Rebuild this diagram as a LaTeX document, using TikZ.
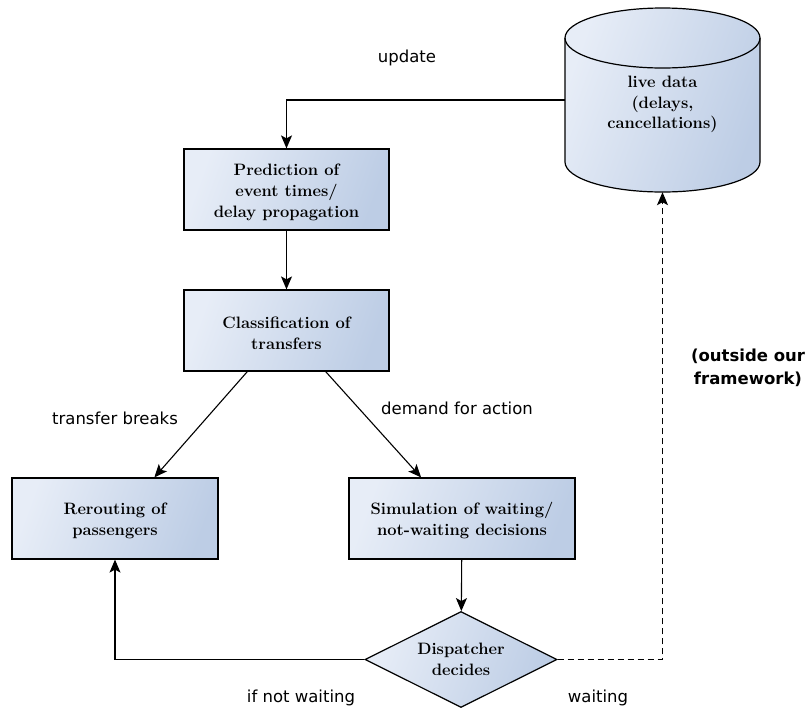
\documentclass[tikz,border=0pt]{standalone}
\usepackage{fontspec}
\newfontfamily\labelfont{DejaVu Sans}
\usetikzlibrary{shapes.geometric, arrows.meta, calc}
\definecolor{shadeL}{RGB}{231,237,247}
\definecolor{shadeR}{RGB}{189,205,229}
% extra head room on the first line pushes the text block slightly down
\newcommand{\toppad}{\rule{0pt}{17pt}}
\newcommand{\toppadcyl}{\rule{0pt}{21pt}}

\begin{document}
\begin{tikzpicture}[x=1pt,y=1pt,
  boxfill/.style={left color=shadeL, right color=shadeR, shading angle=70},
  boxfont/.style={font=\fontsize{16.5}{21}\selectfont\bfseries},
  procbox/.style={draw=black, line width=1.2pt, boxfill, boxfont,
    minimum width=205pt, minimum height=81pt, align=center, inner sep=2pt},
  decision/.style={diamond, aspect=2, draw=black, line width=1.2pt, boxfill, boxfont,
    minimum width=192pt, minimum height=96pt, inner sep=0pt, align=center},
  arr/.style={-{Stealth[length=13pt,width=11pt,inset=3pt]}, line width=1.1pt},
  lab/.style={font=\labelfont\fontsize{16.5}{20}\selectfont},
  boldlab/.style={font=\labelfont\bfseries\fontsize{16.5}{23}\selectfont, align=center}
]
\useasboundingbox (0,0) rectangle (806,-710);

% data store drawn as a cylinder
\path[draw=black, line width=1.2pt, boxfill]
  (565,-38) -- (565,-162)
  arc[start angle=180, end angle=360, x radius=97.5pt, y radius=30pt]
  -- (760,-38)
  arc[start angle=0, end angle=180, x radius=97.5pt, y radius=30pt] -- cycle;
\draw[line width=1.2pt] (565,-38)
  arc[start angle=180, end angle=360, x radius=97.5pt, y radius=30pt];
\node[boxfont, font=\fontsize{16.5}{20.5}\selectfont\bfseries, align=center,
  minimum width=195pt, minimum height=184pt, inner sep=0pt]
  (live) at (662.5,-100) {\toppadcyl live data\\(delays,\\cancellations)};

% process steps
\node[procbox] (pred) at (286.5,-189.5) {\toppad Prediction of\\event times/\\delay propagation};
\node[procbox] (cls) at (286.5,-330.5) {\toppad Classification of\\transfers};
\node[procbox, minimum width=206pt] (rer) at (115,-518.5) {\toppad Rerouting of\\passengers};
\node[procbox, minimum width=226pt] (sim) at (462,-518.5) {\toppad Simulation of waiting/\\not-waiting decisions};
\node[decision] (disp) at (461,-659.5) {Dispatcher\\decides};

% edge labels
\node[lab] (lupd) at (407,-58) {update};
\node[lab] (lbrk) at (115,-418) {transfer breaks};
\node[lab] (ldem) at (457,-408) {demand for action};
\node[lab] (lnot) at (301,-698) {if not waiting};
\node[lab] (lwait) at (598,-698) {waiting};
\node[boldlab] (lout) at (748,-368) {(outside our\\framework)};

% connectors
\draw[arr] (live.west) -| (pred.north);
\draw[arr] (pred) -- (cls);
\draw[arr] ($(cls.south west)!0.31!(cls.south east)$) -- ($(rer.north west)!0.69!(rer.north east)$);
\draw[arr] ($(cls.south west)!0.69!(cls.south east)$) -- ($(sim.north west)!0.32!(sim.north east)$);
\draw[arr] (sim) -- (disp);
\draw[arr] (disp.west) -| (rer.south);
\draw[arr, dash pattern=on 6pt off 4pt] (disp.east) -| (live.south);
\end{tikzpicture}
\end{document}
